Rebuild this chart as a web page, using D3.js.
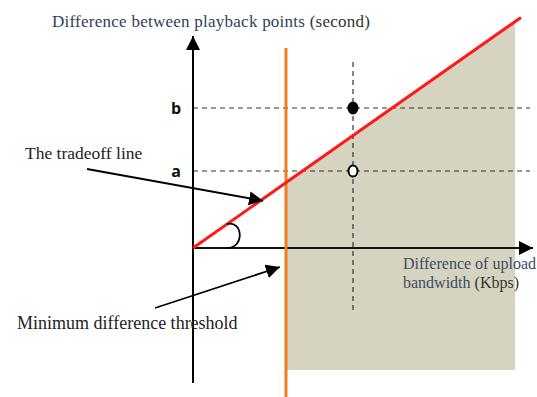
<!DOCTYPE html>
<html><head><meta charset="utf-8">
<script src="https://cdn.jsdelivr.net/npm/d3@7"></script>
<style>body{margin:0;background:#fff}svg{display:block}</style>
</head><body>
<svg id="c" width="537" height="397"></svg>
<script>
// Conceptual diagram values (data units)
const axisX = [0, 340];          // x axis extent (difference of upload bandwidth)
const axisY = [-135, 212];       // y axis extent (difference between playback points)
const tradeoffSlope = [0.703];   // slope of the tradeoff line
const tradeoffEndX = [328];
const thresholdX = [93];         // minimum difference threshold
const thresholdY = [200, -149];
const shadeX = [93, 322];
const shadeBottom = [-122];
const pointX = [160];
const levelLabels = ["a", "b"];
const levelValues = [77, 140];
const levelFilled = [false, true];
const guideYRange = [186, -62];
const guideXEnd = [337];

const svg = d3.select("#c");
const x = d3.scaleLinear().domain([0, 340]).range([193, 533]);
const y = d3.scaleLinear().domain([0, 212]).range([248, 36]);
const f = v => tradeoffSlope[0] * v;

const defs = svg.append("defs");
defs.append("marker").attr("id","ah2").attr("viewBox","0 0 10 10").attr("refX",10).attr("refY",5)
  .attr("markerWidth",14).attr("markerHeight",14).attr("markerUnits","userSpaceOnUse").attr("orient","auto")
  .append("path").attr("d","M0,0L10,5L0,10z").attr("fill","#000");

// shaded feasible region
svg.append("path")
  .attr("d", d3.line()([[x(shadeX[0]), y(f(shadeX[0]))],[x(shadeX[1]), y(f(shadeX[1]))],[x(shadeX[1]), y(shadeBottom[0])],[x(shadeX[0]), y(shadeBottom[0])]]))
  .attr("fill","#d6d3c0");

// guide dashed lines
levelValues.forEach(v => {
  svg.append("line").attr("x1",x(0)).attr("x2",x(guideXEnd[0])).attr("y1",y(v)).attr("y2",y(v))
    .attr("stroke","#333").attr("stroke-width",1.2).attr("stroke-dasharray","5,4");
});
svg.append("line").attr("x1",x(pointX[0])).attr("x2",x(pointX[0])).attr("y1",y(guideYRange[0])).attr("y2",y(guideYRange[1]))
  .attr("stroke","#333").attr("stroke-width",1.2).attr("stroke-dasharray","5,4");

// axes
svg.append("line").attr("x1",x(0)).attr("x2",x(0)).attr("y1",y(axisY[0])).attr("y2",y(axisY[1]))
  .attr("stroke","#000").attr("stroke-width",2).attr("marker-end","url(#ah2)");
svg.append("line").attr("x1",x(0)).attr("x2",x(axisX[1])).attr("y1",y(0)).attr("y2",y(0))
  .attr("stroke","#111").attr("stroke-width",2).attr("marker-end","url(#ah2)");

// threshold line
svg.append("line").attr("x1",x(thresholdX[0])).attr("x2",x(thresholdX[0])).attr("y1",y(thresholdY[0])).attr("y2",y(thresholdY[1]))
  .attr("stroke","#ee7d1e").attr("stroke-width",3);

// tradeoff line
svg.append("line").attr("x1",x(0)).attr("y1",y(0)).attr("x2",x(tradeoffEndX[0])).attr("y2",y(f(tradeoffEndX[0])))
  .attr("stroke","#ff1a1a").attr("stroke-width",3);

// angle arc
svg.append("path").attr("d", `M${x(34)},${y(f(34))} C${x(50)},${y(f(34))-4} ${x(52)},${y(0)} ${x(34)},${y(0)}`)
  .attr("fill","none").attr("stroke","#000").attr("stroke-width",1.8);

// points
levelValues.forEach((v,i) => {
  svg.append("ellipse").attr("cx",x(pointX[0])).attr("cy",y(v)).attr("rx",4.5).attr("ry",5.5)
    .attr("fill", levelFilled[i] ? "#000" : "#fff").attr("stroke","#000").attr("stroke-width",2);
  svg.append("text").attr("x",x(0)-12).attr("y",y(v)+6).attr("text-anchor","end")
    .attr("font-family","'Open Sans', 'Liberation Sans', sans-serif").attr("font-weight","bold").attr("font-size",16)
    .attr("fill","#111").text(levelLabels[i]);
});

// annotation arrows
svg.append("line").attr("x1",87).attr("y1",169).attr("x2",x(70)).attr("y2",y(f(70))+2)
  .attr("stroke","#000").attr("stroke-width",1.8).attr("marker-end","url(#ah2)");
svg.append("line").attr("x1",155).attr("y1",308).attr("x2",x(thresholdX[0])-6).attr("y2",267)
  .attr("stroke","#000").attr("stroke-width",1.8).attr("marker-end","url(#ah2)");

const serif = "'Liberation Serif', 'Times New Roman', serif";
const t1 = svg.append("text").attr("x",52).attr("y",27).attr("font-family",serif).attr("font-size",17).attr("textLength",318);
t1.append("tspan").attr("fill","#2e3f5e").text("Difference between playback points ");
t1.append("tspan").attr("fill","#333").text("(second)");

svg.append("text").attr("x",25).attr("y",159).attr("font-family",serif).attr("font-size",17.5).attr("fill","#222").text("The tradeoff line");
svg.append("text").attr("x",17).attr("y",329).attr("font-family",serif).attr("font-size",18).attr("fill","#222").text("Minimum difference threshold");

const t2 = svg.append("text").attr("font-family",serif).attr("font-size",16);
t2.append("tspan").attr("x",403).attr("y",269).attr("fill","#3a4b68").text("Difference of upload");
const l2 = t2.append("tspan").attr("x",403).attr("y",288);
l2.append("tspan").attr("fill","#3a4b68").text("bandwidth ");
l2.append("tspan").attr("fill","#333").text("(Kbps)");
</script>
</body></html>
